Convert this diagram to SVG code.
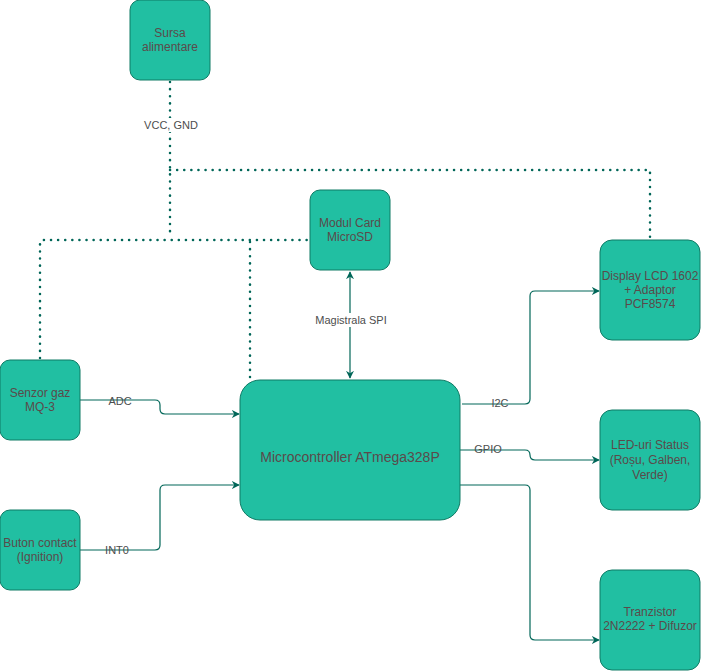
<svg xmlns="http://www.w3.org/2000/svg" width="701" height="671" viewBox="0 0 701 671">
<style>
.n{fill:#21bfa2;stroke:#0f7b65;stroke-width:1}
.t{font-family:"Liberation Sans",Arial,sans-serif;font-size:12px;fill:#5b4a4a;text-anchor:middle}
.l{font-family:"Liberation Sans",Arial,sans-serif;font-size:11px;fill:#4d4d4d;text-anchor:middle}
.c{fill:none;stroke:#006658;stroke-width:1.2}
.d{fill:none;stroke:#006658;stroke-width:2.5;stroke-dasharray:0.1 7;stroke-linecap:round}
</style>
<defs>
<marker id="a" viewBox="0 0 10 10" refX="9" refY="5" markerWidth="8" markerHeight="8" orient="auto-start-reverse" markerUnits="userSpaceOnUse"><path d="M0,0L10,5L0,10L3,5Z" fill="#006658"/></marker>
</defs>
<rect width="701" height="671" fill="#fff"/>
<g id="connectors">
<path class="d" d="M170,82V238M40,358V242Q40,240 42,240H310M170,170H650V240M250,242V378"/>
<path class="c" d="M350,272V378" marker-start="url(#a)" marker-end="url(#a)"/>
<path class="c" d="M80,400H155Q160,400 160,405V409Q160,414 165,414H239" marker-end="url(#a)"/>
<path class="c" d="M80,550H155Q160,550 160,545V490Q160,485 165,485H239" marker-end="url(#a)"/>
<path class="c" d="M462,404H525Q530,404 530,399V296Q530,291 535,291H599" marker-end="url(#a)"/>
<path class="c" d="M460,450H525Q530,450 530,455Q530,460 535,460H599" marker-end="url(#a)"/>
<path class="c" d="M460,485H525Q530,485 530,490V635Q530,640 535,640H599" marker-end="url(#a)"/>
<rect x="143" y="118" width="55" height="14" fill="#fff"/>
<text class="l" x="171" y="129">VCC, GND</text>
<rect x="314" y="313" width="74" height="14" fill="#fff"/>
<text class="l" x="351" y="324">Magistrala SPI</text>
<text class="l" x="120" y="405">ADC</text>
<text class="l" x="117" y="554">INT0</text>
<text class="l" x="500" y="407">I2C</text>
<text class="l" x="488" y="453">GPIO</text>
</g>
<g id="sursa"><rect class="n" x="130" y="0" width="80" height="80" rx="10"/><text class="t" x="170" y="37">Sursa</text><text class="t" x="170" y="51">alimentare</text></g>
<g id="sd"><rect class="n" x="310" y="190" width="80" height="80" rx="10"/><text class="t" x="350" y="227">Modul Card</text><text class="t" x="350" y="241">MicroSD</text></g>
<g id="lcd"><rect class="n" x="600" y="240" width="100" height="100" rx="12"/><text class="t" x="650" y="280">Display LCD 1602</text><text class="t" x="650" y="294">+ Adaptor</text><text class="t" x="650" y="308">PCF8574</text></g>
<g id="senzor"><rect class="n" x="0" y="360" width="80" height="80" rx="10"/><text class="t" x="40" y="397">Senzor gaz</text><text class="t" x="40" y="411">MQ-3</text></g>
<g id="mcu"><rect class="n" x="240" y="380" width="220" height="140" rx="20"/><text class="t" x="350" y="462" style="font-size:14px">Microcontroller ATmega328P</text></g>
<g id="led"><rect class="n" x="600" y="410" width="100" height="100" rx="12"/><text class="t" x="650" y="449">LED-uri Status</text><text class="t" x="650" y="464">(Roșu, Galben,</text><text class="t" x="650" y="479">Verde)</text></g>
<g id="buton"><rect class="n" x="0" y="510" width="80" height="80" rx="10"/><text class="t" x="40" y="547">Buton contact</text><text class="t" x="40" y="561">(Ignition)</text></g>
<g id="tranz"><rect class="n" x="600" y="570" width="100" height="100" rx="12"/><text class="t" x="650" y="616">Tranzistor</text><text class="t" x="650" y="630">2N2222 + Difuzor</text></g>
</svg>
